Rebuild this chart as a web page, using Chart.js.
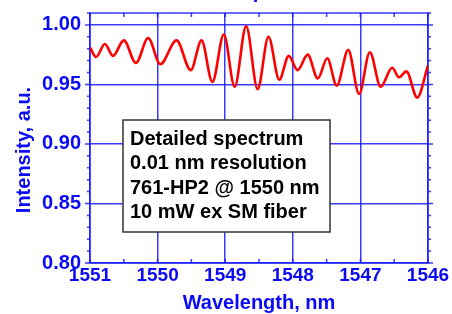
<!DOCTYPE html>
<html>
<head>
<meta charset="utf-8">
<script src="https://cdn.jsdelivr.net/npm/chart.js@4.4.1/dist/chart.umd.min.js"></script>
<style>
  body { margin: 0; background: #fff; }
  canvas { display: block; }
</style>
</head>
<body>
<canvas id="myChart" width="452" height="314"></canvas>
<script>
// values (peaks and valleys)
const wavelength = [1551.00, 1550.91, 1550.78, 1550.66, 1550.50, 1550.32, 1550.14, 1549.96, 1549.72, 1549.51,
  1549.35, 1549.19, 1549.02, 1548.86, 1548.69, 1548.52, 1548.36, 1548.20, 1548.06, 1547.93,
  1547.78, 1547.63, 1547.49, 1547.35, 1547.18, 1547.02, 1546.86, 1546.70, 1546.53, 1546.43,
  1546.32, 1546.16, 1546.00];
const intensity = [0.981, 0.973, 0.984, 0.974, 0.987, 0.968, 0.989, 0.967, 0.987, 0.962,
  0.987, 0.952, 0.992, 0.948, 0.999, 0.946, 0.990, 0.954, 0.974, 0.962,
  0.975, 0.955, 0.972, 0.949, 0.979, 0.942, 0.977, 0.948, 0.964, 0.956,
  0.961, 0.939, 0.966];
const xTicks = [1551, 1550, 1549, 1548, 1547, 1546];
const yTicks = [0.80, 0.85, 0.90, 0.95, 1.00];
const noteLines = ['Detailed spectrum', '0.01 nm resolution', '761-HP2 @ 1550 nm', '10 mW ex SM fiber'];
const topTitle = 'Detailed spectrum';
const xTitle = 'Wavelength, nm';
const yTitle = 'Intensity, a.u.';

const blue = 'rgb(10,10,245)';
const gridBlue = 'rgba(25,25,255,0.85)';
const fontFam = '"Liberation Sans", Arial, sans-serif';

const extras = {
  id: 'extras',
  beforeDatasetsDraw(chart) {
    const c = chart.ctx, a = chart.chartArea;
    const xs = chart.scales.x, ys = chart.scales.y;
    c.save();
    c.strokeStyle = gridBlue;
    c.lineWidth = 1.5;
    c.strokeRect(a.left, a.top, a.right - a.left, a.bottom - a.top);
    c.beginPath();
    // minor x ticks, inward top and bottom
    for (let v = xTicks[xTicks.length - 1]; v <= xTicks[0]; v += 0.5) {
      const px = xs.getPixelForValue(v);
      c.moveTo(px, a.bottom); c.lineTo(px, a.bottom - 4);
      c.moveTo(px, a.top); c.lineTo(px, a.top + 4);
    }
    // y ticks, outward left and right
    for (let i = 0; i <= 21; i++) {
      const v = yTicks[0] + i * 0.01;
      const py = ys.getPixelForValue(v);
      const len = i % 5 === 0 ? 5 : 3;
      c.moveTo(a.left, py); c.lineTo(a.left - len, py);
      c.moveTo(a.right, py); c.lineTo(a.right + len, py);
    }
    c.stroke();
    c.restore();
  },
  afterDraw(chart) {
    const c = chart.ctx;
    c.save();
    // cut-off title at top
    c.fillStyle = blue;
    c.font = 'bold 20px ' + fontFam;
    c.textAlign = 'center';
    c.textBaseline = 'alphabetic';
    c.fillText(topTitle, 245, -2);
    // y axis title
    c.translate(24, 150);
    c.rotate(-Math.PI / 2);
    c.textBaseline = 'middle';
    c.fillText(yTitle, 0, 0);
    c.restore();

    // note box
    c.save();
    c.fillStyle = '#fff';
    c.fillRect(123, 120, 207, 112);
    c.strokeStyle = '#333';
    c.lineWidth = 1.5;
    c.strokeRect(123, 120, 207, 112);
    c.fillStyle = '#000';
    c.font = 'bold 20px ' + fontFam;
    c.textAlign = 'left';
    c.textBaseline = 'middle';
    noteLines.forEach((t, i) => c.fillText(t, 130, 139 + i * 24.6));
    c.restore();
  }
};

const ctx = document.getElementById('myChart');

new Chart(ctx, {
  type: 'line',
  data: {
    datasets: [{
      data: wavelength.map((w, i) => ({ x: w, y: intensity[i] })),
      borderColor: 'red',
      borderWidth: 2.6,
      pointRadius: 0,
      cubicInterpolationMode: 'monotone',
      fill: false
    }]
  },
  options: {
    responsive: false,
    devicePixelRatio: 1,
    animation: false,
    layout: { padding: { top: 13, right: 24, left: 0, bottom: 0 } },
    plugins: { legend: { display: false }, tooltip: { enabled: false } },
    scales: {
      x: {
        type: 'linear',
        reverse: true,
        min: 1546,
        max: 1551,
        afterFit: s => { s.height = 51; },
        border: { display: false },
        grid: { color: gridBlue, lineWidth: 1.5, drawTicks: false },
        ticks: {
          stepSize: 1,
          padding: 1,
          color: blue,
          font: { family: fontFam, size: 19, weight: 'bold' },
          callback: v => String(v)
        },
        title: {
          display: true,
          text: xTitle,
          color: blue,
          font: { family: fontFam, size: 20, weight: 'bold', lineHeight: 1.1 },
          padding: { top: 0, bottom: 0 }
        }
      },
      y: {
        type: 'linear',
        min: 0.80,
        max: 1.01,
        afterFit: s => { s.width = 90; s.paddingTop = 0; s.paddingBottom = 0; },
        border: { display: false },
        grid: { color: gridBlue, lineWidth: 1.5, drawTicks: false },
        ticks: {
          stepSize: 0.05,
          includeBounds: false,
          padding: 9,
          color: blue,
          font: { family: fontFam, size: 20, weight: 'bold' },
          callback: v => v.toFixed(2)
        }
      }
    }
  },
  plugins: [extras]
});
</script>
</body>
</html>
